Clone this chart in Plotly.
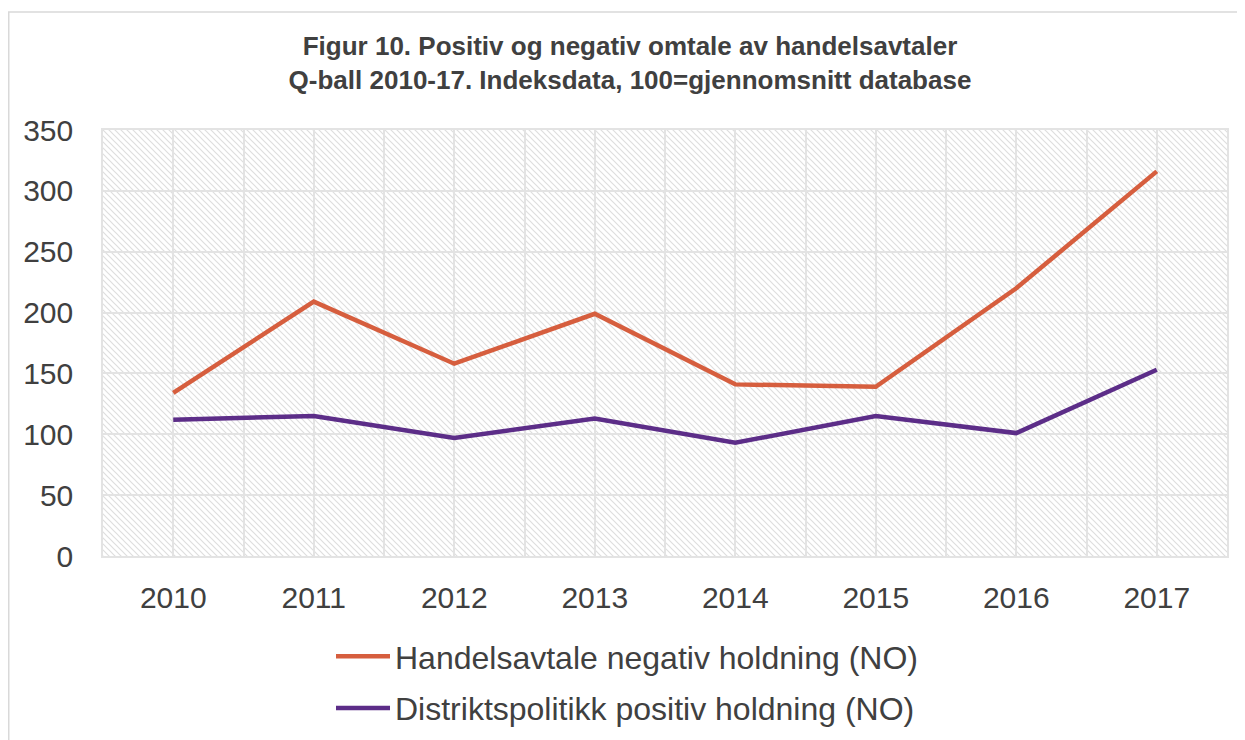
import base64
import plotly.graph_objects as go

# ---- data ----
years = [2010, 2011, 2012, 2013, 2014, 2015, 2016, 2017]
handelsavtale_negativ = [134, 209, 158, 199, 141, 139, 220, 316]
distriktspolitikk_positiv = [112, 115, 97, 113, 93, 115, 101, 153]
series_names = ["Handelsavtale negativ holdning (NO)", "Distriktspolitikk positiv holdning (NO)"]
title_lines = ["Figur 10. Positiv og negativ omtale av handelsavtaler",
               "Q-ball 2010-17. Indeksdata, 100=gjennomsnitt database"]
y_ticks = [0, 50, 100, 150, 200, 250, 300, 350]

# ---- style ----
# page has an 8px body margin, so the figure is 8px smaller and offsets are compensated
W, H = 1237, 732
L, R, T, B = 95, 18, 122, 184
PW, PH = W - L - R, H - T - B
TEXT = "#404040"
GRID = "#e3e3e3"
FONT = "Liberation Sans, Arial, sans-serif"
ORANGE = "#D65E3E"
PURPLE = "#5C2D88"

# hatched plot background as an SVG pattern image
svg = f'''<svg xmlns="http://www.w3.org/2000/svg" width="{PW}" height="{PH}" viewBox="0 0 {PW} {PH}">
<defs><pattern id="h" width="6" height="6" patternUnits="userSpaceOnUse">
<path d="M-1,-1 L7,7 M-1,5 L1,7 M5,-1 L7,1" stroke="#dedede" stroke-width="1.2"/>
</pattern></defs>
<rect width="{PW}" height="{PH}" fill="white"/>
<rect width="{PW}" height="{PH}" fill="url(#h)"/>
</svg>'''
svg_uri = "data:image/svg+xml;base64," + base64.b64encode(svg.encode()).decode()

fig = go.Figure()
fig.add_trace(go.Scatter(x=years, y=handelsavtale_negativ, mode="lines", name=series_names[0],
                         legendgroup="a", line=dict(color=ORANGE, width=4.5)))
fig.add_trace(go.Scatter(x=years, y=distriktspolitikk_positiv, mode="lines", name=series_names[1],
                         legendgroup="b", line=dict(color=PURPLE, width=4.5)))

fig.update_layout(
    width=W, height=H,
    margin=dict(l=L, r=R, t=T, b=B, autoexpand=False),
    paper_bgcolor="white",
    plot_bgcolor="rgba(0,0,0,0)",
    font=dict(family=FONT, color=TEXT),
    title=dict(text="<b>" + "<br>".join(title_lines) + "</b>",
               x=622 / W, xanchor="center", xref="container",
               y=1 - 47 / H, yanchor="top", yref="container",
               font=dict(size=26, color=TEXT, family=FONT)),
    showlegend=True,
    legend=dict(orientation="v", x=(323 - L) / PW, xanchor="left",
                y=(H - B - 621) / PH, yanchor="top",
                font=dict(size=32, color=TEXT, family=FONT),
                itemwidth=54, bgcolor="rgba(0,0,0,0)", tracegroupgap=7),
    images=[dict(source=svg_uri, xref="paper", yref="paper", x=0, y=1,
                 sizex=1, sizey=1, sizing="stretch", layer="below",
                 xanchor="left", yanchor="top")],
    shapes=[dict(type="rect", xref="paper", yref="paper",
                 x0=(0.75 - L) / PW, x1=(W + 10 - L) / PW,
                 y0=(H - B - (H + 10)) / PH, y1=(H - B - 4) / PH,
                 line=dict(color="#d9d9d9", width=1.5), fillcolor="rgba(0,0,0,0)", layer="below")],
)

fig.update_xaxes(
    range=[years[0] - 0.5, years[-1] + 0.5],
    tickmode="array", tickvals=years, ticktext=[str(y) for y in years],
    tickfont=dict(size=30, color=TEXT), ticks="", ticklabelstandoff=14,
    showgrid=True, gridcolor=GRID, gridwidth=1.5,
    minor=dict(tickmode="array", tickvals=[y - 0.5 for y in years] + [years[-1] + 0.5],
               showgrid=True, gridcolor=GRID, gridwidth=1.5, ticks=""),
    showline=True, linecolor=GRID, linewidth=1.5, mirror=True, zeroline=False,
)
fig.update_yaxes(
    range=[0, 350], tickmode="array", tickvals=y_ticks,
    tickfont=dict(size=30, color=TEXT), ticks="", ticklabelstandoff=22,
    showgrid=True, gridcolor=GRID, gridwidth=1.5,
    showline=True, linecolor=GRID, linewidth=1.5, mirror=True, zeroline=False,
)

fig.write_html("out.html")
